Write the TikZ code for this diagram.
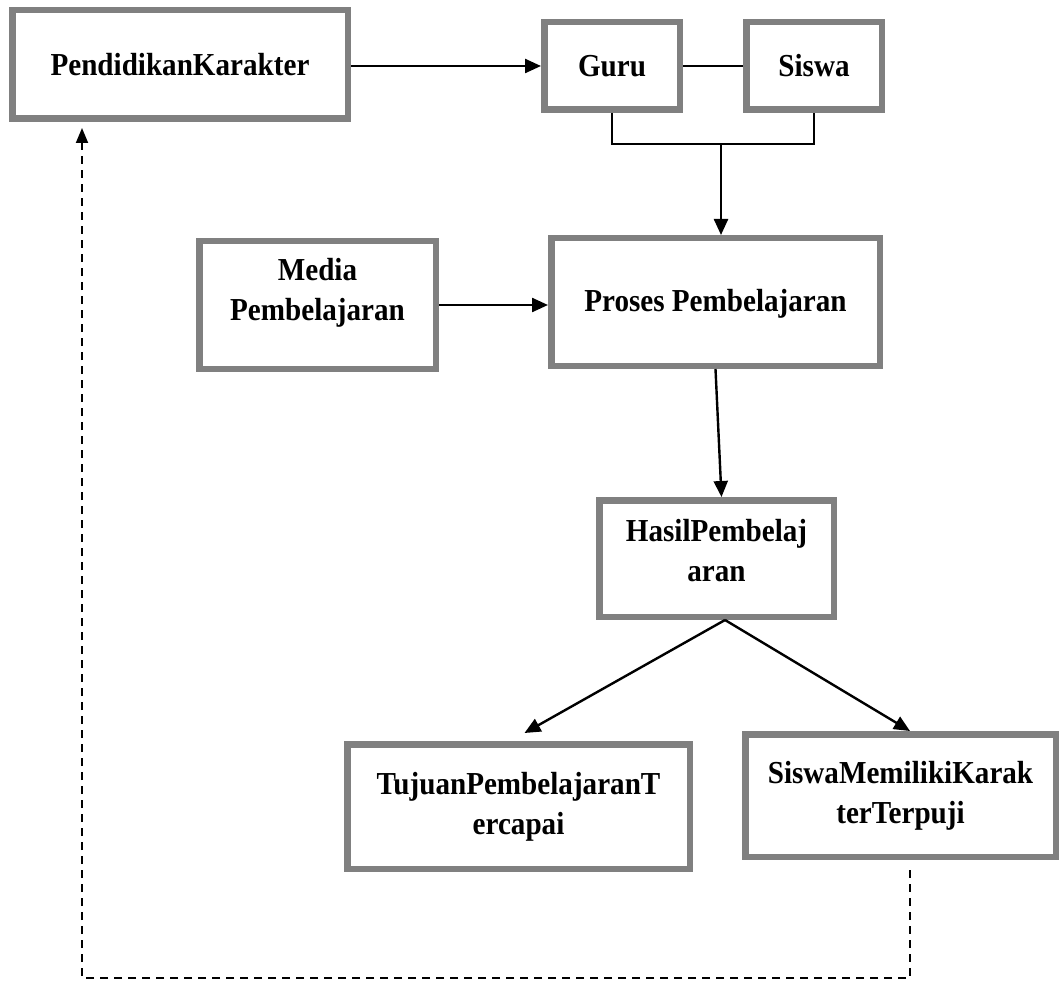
\documentclass[tikz,border=0pt]{standalone}
\usepackage{fontspec}
\setmainfont{Liberation Serif}[FakeStretch=0.91]
\usetikzlibrary{arrows.meta,positioning}
\definecolor{boxgray}{RGB}{128,128,128}

\begin{document}
\begin{tikzpicture}[
    x=1pt, y=-1pt,
    every node/.style={font=\fontsize{32}{40}\selectfont\bfseries},
    box/.style={draw=boxgray, line width=6.5pt, align=center, inner sep=0pt},
    flow/.style={-{Triangle[length=16pt,width=14pt]}, line width=2.4pt},
    link/.style={line width=1.4pt},
    feedback/.style={-{Triangle[length=15pt,width=12pt]}, line width=1.8pt, dash pattern=on 8pt off 6pt}
]
\useasboundingbox (0,0) rectangle (1060,984);

\node[box, minimum width=335.5pt, minimum height=108.5pt] (pk) at (180,64.5) {PendidikanKarakter};
\node[box, minimum width=135.5pt, minimum height=87.5pt] (guru) at (612,66) {Guru};
\node[box, minimum width=135.5pt, minimum height=87.5pt] (siswa) at (814,66) {Siswa};
\node[box, minimum width=236.5pt, minimum height=127.5pt, text depth=32pt] (media) at (317.5,305) {Media\\Pembelajaran};
\node[box, minimum width=328.5pt, minimum height=127.5pt, text depth=4pt] (proses) at (715.5,302) {Proses Pembelajaran};
\node[box, minimum width=234.5pt, minimum height=116.5pt, text depth=16pt] (hasil) at (716.5,558.5) {HasilPembelaj\\aran};
\node[box, minimum width=342.5pt, minimum height=124.5pt] (tujuan) at (518.5,806.5) {TujuanPembelajaranT\\ercapai};
\node[box, minimum width=310.5pt, minimum height=122.5pt] (skt) at (900.5,795.5) {SiswaMemilikiKarak\\terTerpuji};

\draw[flow] (pk.east |- guru.west) -- (guru.west);
\draw[link] (guru) -- (siswa);
\coordinate (join) at (721,144);
\draw[link] (guru.south) |- (join) -| (siswa.south);
\draw[flow] (join) -- (join |- proses.north);
\draw[flow] (media.east) -- (media.east -| proses.west);
\draw[flow] (proses.south) -- ([xshift=5pt]hasil.north);
\coordinate (apex) at ([xshift=8.5pt]hasil.south);
\draw[flow] (apex) -- ([xshift=6pt,yshift=8pt]tujuan.north);
\draw[flow] (apex) -- ([xshift=9.5pt]skt.north);
% umpan balik
\coordinate (fb) at (82,978);
\draw[feedback, shorten >=6pt] ([xshift=9.5pt,yshift=-10pt]skt.south) |- (fb) -- (fb |- pk.south);
\end{tikzpicture}
\end{document}
